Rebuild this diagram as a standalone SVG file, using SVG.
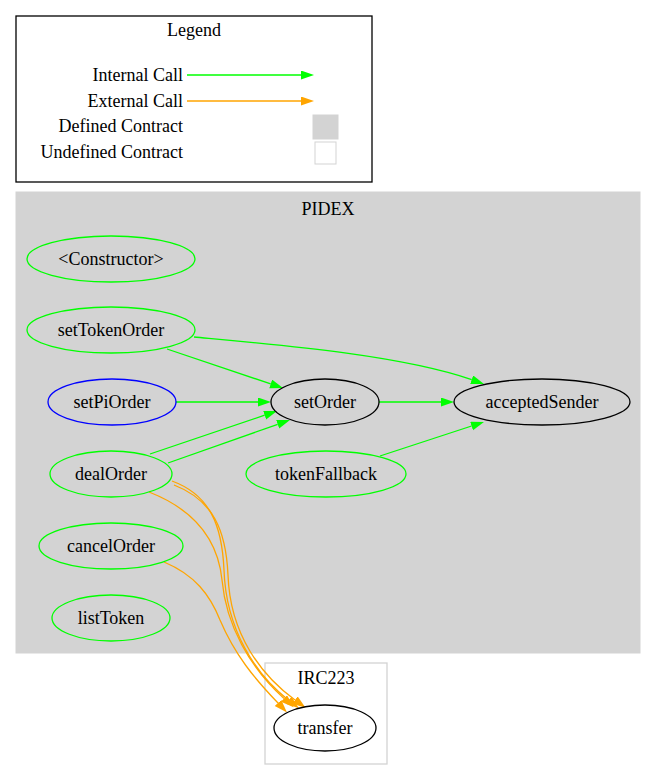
<svg xmlns="http://www.w3.org/2000/svg" width="656" height="780" viewBox="0 0 656 780">
<defs>
<style>
text{font-family:"Liberation Serif","Times New Roman",serif;font-size:18px;fill:#000}
.c{text-anchor:middle}
.r{text-anchor:end}
.g{fill:none;stroke:#00ff00;stroke-width:1.3}
.o{fill:none;stroke:#ffa500;stroke-width:1.3}
.ng{fill:none;stroke:#00ff00;stroke-width:1.3}
.nb{fill:none;stroke:#000;stroke-width:1.3}
.nbl{fill:none;stroke:#0000ff;stroke-width:1.3}
</style>
<marker id="ag" markerUnits="userSpaceOnUse" markerWidth="14" markerHeight="10" refX="0" refY="4.5" orient="auto"><path d="M0,0 L13,4.5 L0,9 z" fill="#00ff00"/></marker>
<marker id="ao" markerUnits="userSpaceOnUse" markerWidth="14" markerHeight="10" refX="0" refY="4.5" orient="auto"><path d="M0,0 L13,4.5 L0,9 z" fill="#ffa500"/></marker>
</defs>
<rect width="656" height="780" fill="#fff"/>
<g id="legend">
<rect x="16" y="16" width="356" height="166" fill="#fff" stroke="#000" stroke-width="1.3"/>
<text class="c" x="194" y="36">Legend</text>
<text class="r" x="183" y="81">Internal Call</text>
<text class="r" x="183" y="107">External Call</text>
<text class="r" x="183" y="132">Defined Contract</text>
<text class="r" x="183" y="158">Undefined Contract</text>
<path class="g" d="M187,75 L301,75" marker-end="url(#ag)"/>
<path class="o" d="M187,101 L301,101" marker-end="url(#ao)"/>
<rect x="313" y="115" width="25" height="24" fill="#d3d3d3" stroke="#d3d3d3"/>
<rect x="315" y="142" width="21" height="22" fill="#fff" stroke="#d3d3d3"/>
</g>
<g id="cluster_PIDEX">
<rect x="16" y="192" width="624" height="461" fill="#d3d3d3" stroke="#d3d3d3"/>
<text class="c" x="328" y="215">PIDEX</text>
</g>
<g id="cluster_IRC223">
<rect x="265" y="663" width="122" height="101" fill="#fff" stroke="#d3d3d3" stroke-width="1.3"/>
<text class="c" x="326" y="684">IRC223</text>
</g>
<g id="edges">
<path class="g" d="M167,349 L270.7,383.9" marker-end="url(#ag)"/>
<path class="g" d="M194,337 C280,345 400,355 471.7,379.7" marker-end="url(#ag)"/>
<path class="g" d="M176,402 L258,402" marker-end="url(#ag)"/>
<path class="g" d="M150,454 L264.7,415.2" marker-end="url(#ag)"/>
<path class="g" d="M168,463 L277.7,424.3" marker-end="url(#ag)"/>
<path class="g" d="M379,402 L441,402" marker-end="url(#ag)"/>
<path class="g" d="M380,456 L471.6,426" marker-end="url(#ag)"/>
<path class="o" d="M164,562 C195,575 210,595 220,620 C235,655 254,678 278,703" marker-end="url(#ao)"/>
<path class="o" d="M149,492 C195,510 218,540 222,580 C226,625 250,668 284,698.5" marker-end="url(#ao)"/>
<path class="o" d="M172,481 C210,495 222,525 224,570 C226,630 256,675 288.6,700.2" marker-end="url(#ao)"/>
<path class="o" d="M174,485 C213,500 226,530 228,575 C230,635 262,676 295,700" marker-end="url(#ao)"/>
</g>
<g id="n_constructor"><ellipse class="ng" cx="111" cy="259" rx="84" ry="23"/><text class="c" x="111" y="265">&lt;Constructor&gt;</text></g>
<g id="n_setTokenOrder"><ellipse class="ng" cx="111" cy="330" rx="84" ry="23"/><text class="c" x="111" y="336">setTokenOrder</text></g>
<g id="n_setPiOrder"><ellipse class="nbl" cx="112" cy="402" rx="64" ry="23"/><text class="c" x="112" y="408">setPiOrder</text></g>
<g id="n_dealOrder"><ellipse class="ng" cx="111" cy="474" rx="61" ry="23"/><text class="c" x="111" y="480">dealOrder</text></g>
<g id="n_cancelOrder"><ellipse class="ng" cx="111" cy="546" rx="72" ry="23"/><text class="c" x="111" y="552">cancelOrder</text></g>
<g id="n_listToken"><ellipse class="ng" cx="111" cy="618" rx="59" ry="23"/><text class="c" x="111" y="624">listToken</text></g>
<g id="n_setOrder"><ellipse class="nb" cx="325" cy="402" rx="54" ry="23"/><text class="c" x="325" y="408">setOrder</text></g>
<g id="n_acceptedSender"><ellipse class="nb" cx="542" cy="402" rx="88" ry="23"/><text class="c" x="542" y="408">acceptedSender</text></g>
<g id="n_tokenFallback"><ellipse class="ng" cx="326" cy="474" rx="80" ry="23"/><text class="c" x="326" y="480">tokenFallback</text></g>
<g id="n_transfer"><ellipse class="nb" cx="325" cy="728" rx="51" ry="23"/><text class="c" x="325" y="734">transfer</text></g>
</svg>
